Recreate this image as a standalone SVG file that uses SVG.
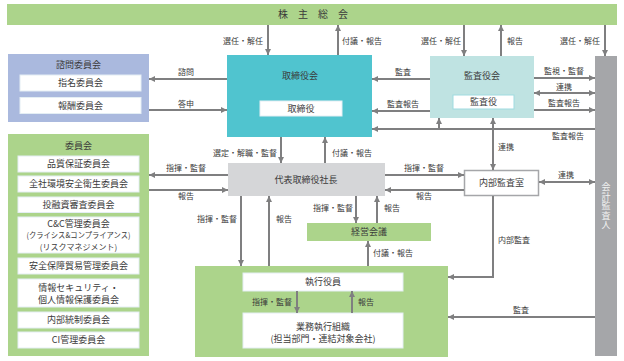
<svg xmlns="http://www.w3.org/2000/svg" width="624" height="361" viewBox="0 0 624 361">
<defs>
<marker id="ah" viewBox="0 0 6 6" refX="6" refY="3" markerWidth="6" markerHeight="6" markerUnits="userSpaceOnUse" orient="auto-start-reverse">
<path d="M0,0 L6,3 L0,6 z" fill="#7f7f80"/>
</marker>
<style>
text{font-family:"Noto Sans CJK JP","Noto Sans",sans-serif;fill:#3a3a3a}
.bx{font-size:9px;text-anchor:middle}
.sm{font-size:8px}
.lb{font-size:8px}
.mid{text-anchor:middle}
.end{text-anchor:end}
.wb{fill:#ffffff;stroke:#e4eef4;stroke-width:1}
.cn line,.cn polyline{stroke:#7f7f80;stroke-width:2;fill:none}
.a{marker-end:url(#ah)}
.b{marker-start:url(#ah);marker-end:url(#ah)}
.g{fill:#acd48b}
.vt{font-size:9px;writing-mode:vertical-rl;text-orientation:upright;text-anchor:middle;fill:#f2f2f2;letter-spacing:0.5px}
</style>
</defs>
<rect width="624" height="361" fill="#ffffff"/>

<g id="shareholders">
<rect class="g" x="7" y="4" width="610" height="21"/>
<text x="278" y="18" style="font-size:10px;letter-spacing:10px">株主総会</text>
</g>

<g id="advisory">
<rect x="8" y="54" width="141" height="68" fill="#aab9de"/>
<text class="bx" x="78.5" y="68">諮問委員会</text>
<rect class="wb" x="20" y="75" width="121" height="16"/>
<text class="bx" x="80.5" y="86">指名委員会</text>
<rect class="wb" x="20" y="97.5" width="121" height="16"/>
<text class="bx" x="80.5" y="108.5">報酬委員会</text>
</g>

<g id="board">
<rect x="227" y="55" width="145" height="82" fill="#50c4cf"/>
<text class="bx" x="300" y="79">取締役会</text>
<rect class="wb" x="260" y="101" width="82" height="15"/>
<text class="bx" x="301" y="111.5">取締役</text>
</g>

<g id="auditboard">
<rect x="430" y="56" width="104" height="62" fill="#bfe3e2"/>
<text class="bx" x="482" y="79">監査役会</text>
<rect x="453" y="95" width="61" height="14" fill="#ffffff" stroke="#9fdbe0" stroke-width="1"/>
<text class="bx" x="483.5" y="105">監査役</text>
</g>

<g id="accountant">
<rect x="595" y="56" width="22" height="300" fill="#a5a6a9"/>
<text class="vt" x="606" y="206">会計監査人</text>
</g>

<g id="committees">
<rect class="g" x="8" y="134" width="141" height="222"/>
<text class="bx" x="78.5" y="149">委員会</text>
<rect class="wb" x="18" y="156" width="121" height="16"/>
<text class="bx" x="78.5" y="167">品質保証委員会</text>
<rect class="wb" x="18" y="176" width="121" height="16"/>
<text class="bx" x="78.5" y="187">全社環境安全衛生委員会</text>
<rect class="wb" x="18" y="197" width="121" height="15.5"/>
<text class="bx" x="78.5" y="207.5">投融資審査委員会</text>
<rect class="wb" x="18" y="217" width="121" height="36"/>
<text class="bx" x="78.5" y="226.5">C&amp;C管理委員会</text>
<text class="bx sm" x="78.5" y="238" textLength="104" lengthAdjust="spacingAndGlyphs">(クライシス&amp;コンプライアンス)</text>
<text class="bx sm" x="78.5" y="249.5">(リスクマネジメント)</text>
<rect class="wb" x="18" y="258" width="121" height="16"/>
<text class="bx" x="78.5" y="269">安全保障貿易管理委員会</text>
<rect class="wb" x="18" y="279" width="121" height="28"/>
<text class="bx" x="78.5" y="290.5">情報セキュリティ・</text>
<text class="bx" x="78.5" y="302.5">個人情報保護委員会</text>
<rect class="wb" x="18" y="312" width="121" height="16"/>
<text class="bx" x="78.5" y="323">内部統制委員会</text>
<rect class="wb" x="18" y="332" width="121" height="16"/>
<text class="bx" x="78.5" y="343">CI管理委員会</text>
</g>

<g id="president">
<rect x="228" y="163" width="157" height="33" fill="#d5d6d8"/>
<text class="bx" x="306" y="183">代表取締役社長</text>
</g>

<g id="internalaudit">
<rect x="464.5" y="170.5" width="74" height="25" fill="#ffffff" stroke="#a5a6a9" stroke-width="1.5"/>
<text class="bx" x="501.5" y="186">内部監査室</text>
</g>

<g id="mgmtmeeting">
<rect class="g" x="307" y="223" width="124" height="18"/>
<text class="bx" x="369" y="235">経営会議</text>
</g>

<g id="execution">
<rect class="g" x="195" y="266" width="253" height="91"/>
<rect class="wb" x="243" y="273" width="160" height="18"/>
<text class="bx" x="323" y="285">執行役員</text>
<rect class="wb" x="243" y="313" width="160" height="35"/>
<text class="bx" x="323" y="329.5">業務執行組織</text>
<text class="bx" x="323" y="341.5">(担当部門・連結対象会社)</text>
</g>

<g id="connectors" class="cn">
<line class="a" x1="268" y1="25" x2="268" y2="55"/>
<line class="a" x1="338" y1="55" x2="338" y2="25"/>
<line class="a" x1="464" y1="25" x2="464" y2="56"/>
<line class="a" x1="501" y1="56" x2="501" y2="25"/>
<line class="a" x1="605" y1="25" x2="605" y2="56"/>
<line class="a" x1="227" y1="79" x2="149" y2="79"/>
<line class="a" x1="149" y1="110" x2="227" y2="110"/>
<line class="a" x1="430" y1="79" x2="372" y2="79"/>
<line class="a" x1="430" y1="111" x2="372" y2="111"/>
<line class="a" x1="534" y1="78" x2="595" y2="78"/>
<line class="b" x1="534" y1="93" x2="595" y2="93"/>
<line class="a" x1="534" y1="110" x2="595" y2="110"/>
<line class="a" x1="595" y1="129" x2="372" y2="129"/>
<line class="a" x1="439" y1="129" x2="439" y2="118"/>
<line class="b" x1="493" y1="118" x2="493" y2="170"/>
<line class="a" x1="281" y1="137" x2="281" y2="163"/>
<line class="a" x1="325" y1="163" x2="325" y2="137"/>
<line class="a" x1="228" y1="175" x2="149" y2="175"/>
<line class="a" x1="149" y1="190" x2="228" y2="190"/>
<line class="a" x1="385" y1="175" x2="464" y2="175"/>
<line class="a" x1="464" y1="190" x2="385" y2="190"/>
<line class="b" x1="539" y1="182" x2="595" y2="182"/>
<polyline class="a" points="493,196 493,277 448,277"/>
<line class="a" x1="595" y1="317" x2="448" y2="317"/>
<line class="a" x1="241" y1="196" x2="241" y2="266"/>
<line class="a" x1="269" y1="266" x2="269" y2="196"/>
<line class="a" x1="356" y1="196" x2="356" y2="223"/>
<line class="a" x1="377" y1="223" x2="377" y2="196"/>
<line class="a" x1="368" y1="266" x2="368" y2="241"/>
<line class="a" x1="297" y1="291" x2="297" y2="313"/>
<line class="a" x1="352" y1="313" x2="352" y2="291"/>
</g>

<g id="labels">
<text class="lb end" x="263" y="44">選任・解任</text>
<text class="lb" x="342" y="44">付議・報告</text>
<text class="lb end" x="461" y="44">選任・解任</text>
<text class="lb" x="507" y="44">報告</text>
<text class="lb end" x="600" y="44">選任・解任</text>
<text class="lb mid" x="186" y="75">諮問</text>
<text class="lb mid" x="186" y="107">答申</text>
<text class="lb mid" x="403" y="75">監査</text>
<text class="lb mid" x="403" y="107">監査報告</text>
<text class="lb mid" x="564" y="74">監視・監督</text>
<text class="lb mid" x="564" y="90">連携</text>
<text class="lb mid" x="564" y="106">監査報告</text>
<text class="lb mid" x="568" y="139">監査報告</text>
<text class="lb" x="498" y="150">連携</text>
<text class="lb end" x="277" y="156">選定・解職・監督</text>
<text class="lb" x="332" y="156">付議・報告</text>
<text class="lb mid" x="186" y="171">指揮・監督</text>
<text class="lb mid" x="186" y="199">報告</text>
<text class="lb mid" x="424" y="171">指揮・監督</text>
<text class="lb mid" x="424" y="199">報告</text>
<text class="lb mid" x="566" y="178">連携</text>
<text class="lb end" x="237" y="222">指揮・監督</text>
<text class="lb" x="276" y="222">報告</text>
<text class="lb end" x="353" y="211">指揮・監督</text>
<text class="lb" x="384" y="211">報告</text>
<text class="lb" x="373" y="256">付議・報告</text>
<text class="lb" x="498" y="243">内部監査</text>
<text class="lb mid" x="521" y="313">監査</text>
<text class="lb end" x="292" y="305">指揮・監督</text>
<text class="lb" x="358" y="305">報告</text>
</g>
</svg>
